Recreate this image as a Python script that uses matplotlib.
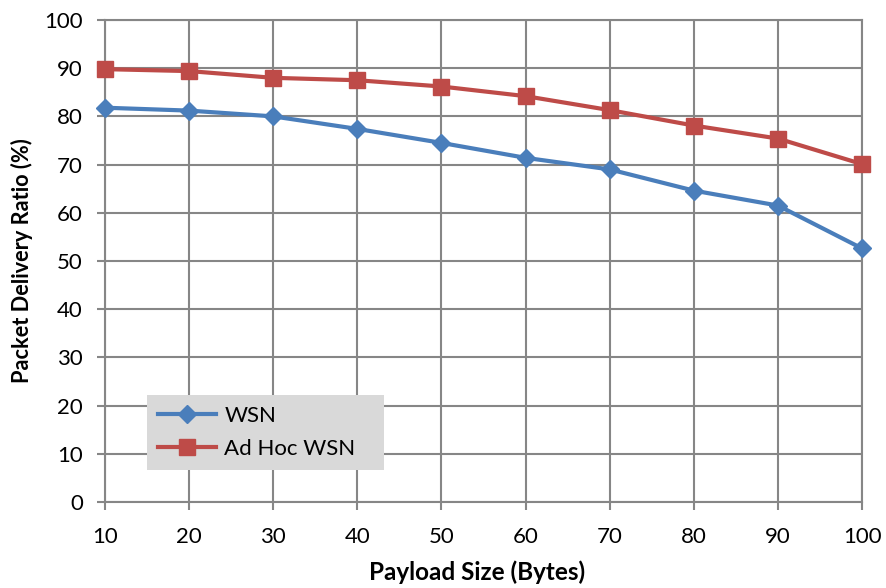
import matplotlib.pyplot as plt

payload = [10, 20, 30, 40, 50, 60, 70, 80, 90, 100]
wsn = [81.8, 81.2, 80.0, 77.4, 74.5, 71.4, 69.0, 64.6, 61.5, 52.6]
adhoc_wsn = [89.8, 89.4, 88.0, 87.5, 86.2, 84.2, 81.3, 78.1, 75.4, 70.1]

plt.rcParams["font.family"] = ["Lato", "DejaVu Sans"]

fig = plt.figure(figsize=(8.86, 5.88), dpi=100)
ax = fig.add_axes([0.1185, 0.1463, 0.8545, 0.8197])

ax.plot(payload, wsn, color="#4a7ebb", lw=3, marker="D", ms=9, label="WSN", clip_on=False, zorder=3)
ax.plot(payload, adhoc_wsn, color="#be4b48", lw=3, marker="s", ms=11, label="Ad Hoc WSN", clip_on=False, zorder=3)

ax.set_xlim(10, 100)
ax.set_ylim(0, 100)
ax.set_xticks(payload)
ax.set_yticks(range(0, 101, 10))
ax.grid(True, color="#868686", lw=1.5)
ax.set_axisbelow(True)
for s in ax.spines.values():
    s.set_color("#868686")
    s.set_linewidth(1.5)
ax.tick_params(colors="#868686", labelcolor="black", labelsize=16, width=1.5, length=6)
ax.tick_params(axis="x", pad=12)
ax.tick_params(axis="y", pad=10)

ax.set_xlabel("Payload Size (Bytes)", fontsize=17.5, fontweight="bold")
ax.set_ylabel("Packet Delivery Ratio (%)", fontsize=15.7, fontweight="bold")
ax.xaxis.set_label_coords(0.492, -0.122)
ax.yaxis.set_label_coords(-0.095, 0.5)

leg = ax.legend(loc="lower left", bbox_to_anchor=(0.055, 0.066, 0.314, 0.166), mode="expand",
                fontsize=16, frameon=True, fancybox=False, facecolor="#d9d9d9", edgecolor="none",
                framealpha=1, handlelength=2.6, handletextpad=0.4, borderpad=0.5, labelspacing=0.6,
                borderaxespad=0)

fig.savefig("out.png", dpi=100)
plt.close(fig)
